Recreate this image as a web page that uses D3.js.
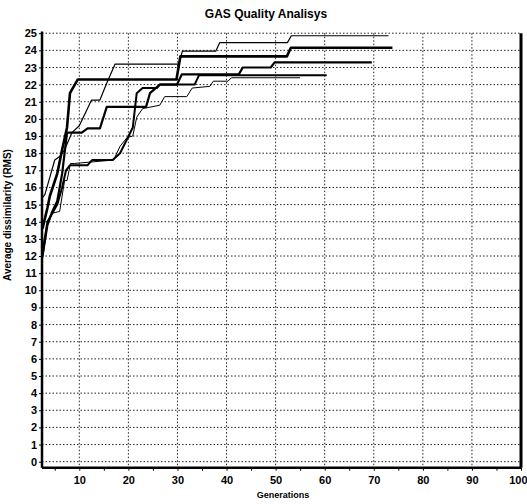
<!DOCTYPE html>
<html>
<head>
<meta charset="utf-8">
<script src="https://cdn.jsdelivr.net/npm/d3@7"></script>
<style>
  body { margin: 0; background: #fff; }
  text { font-family: "Liberation Sans", Arial, sans-serif; font-weight: bold; fill: #000; }
</style>
</head>
<body>
<svg id="chart" width="527" height="504"></svg>
<script>
// generations / quality values for each run (step-like curves)
var genA = [2.5, 3, 4, 5, 6, 7, 8.5, 10, 11.5, 12.5, 14.2, 15.6, 17.3, 30.3, 31, 37.8, 38.6, 52.4, 53.2, 73];
var valA = [15.4, 15.6, 16.6, 17.6, 17.8, 18.2, 19.2, 19.6, 20.5, 21.1, 21.1, 22.1, 23.2, 23.2, 23.95, 23.95, 24.45, 24.45, 24.85, 24.85];

var genB = [2.5, 3.5, 4, 5.5, 6.5, 7.5, 8.1, 9.7, 29.8, 30.6, 52.3, 53.1, 73.8];
var valB = [13.6, 14.8, 15.5, 16.8, 18.2, 19.5, 21.5, 22.3, 22.3, 23.65, 23.65, 24.15, 24.15];

var genC = [2.5, 3.5, 4.5, 5.5, 6.5, 7.5, 10.5, 11.7, 14.2, 15.6, 23.6, 24.4, 26.4, 29.9, 30.9, 42.5, 43.3, 49, 49.8, 69.6];
var valC = [12.0, 13.8, 14.6, 15.2, 16.8, 19.2, 19.2, 19.45, 19.45, 20.7, 20.7, 21.5, 22.0, 22.0, 22.6, 22.6, 23.0, 23.0, 23.3, 23.3];

var genD = [2.5, 3.5, 4.5, 6, 7, 7.5, 8.2, 9, 17, 18.3, 19.7, 20.9, 21.7, 22.9, 26.4, 27.4, 31.9, 33, 36.6, 37.3, 40.3, 41, 55];
var valD = [11.8, 13.8, 14.5, 14.6, 16.4, 16.4, 17.4, 17.4, 17.6, 18.4, 18.9, 19.0, 20.1, 20.6, 20.8, 21.3, 21.3, 21.8, 21.9, 22.2, 22.2, 22.4, 22.4];

var genE = [2.5, 3.5, 4.5, 5.5, 6.5, 7.3, 8.1, 11.7, 12.6, 16.8, 18.3, 19.7, 20.9, 21.7, 22.9, 25.8, 26.4, 33.5, 34.4, 60.4];
var valE = [12.2, 14.0, 14.5, 15.0, 16.0, 17.0, 17.3, 17.3, 17.6, 17.6, 18.0, 18.8, 19.5, 21.5, 21.8, 21.8, 22.0, 22.0, 22.55, 22.55];

var runs = [
  { gen: genA, val: valA, w: 1.2 },
  { gen: genB, val: valB, w: 2.6 },
  { gen: genC, val: valC, w: 2.2 },
  { gen: genD, val: valD, w: 1.0 },
  { gen: genE, val: valE, w: 2.0 }
];

var yTicks = d3.range(0, 26);
var xTicks = [10, 20, 30, 40, 50, 60, 70, 80, 90, 100];

var svg = d3.select("#chart");

var x = d3.scaleLinear().domain([2.4, 100]).range([42, 521]);
var y = d3.scaleLinear().domain([-0.35, 25]).range([467.7, 33.2]);

// dotted grid
var grid = svg.append("g");
grid.selectAll("line.h")
  .data(yTicks)
  .enter().append("line")
  .attr("x1", x(2.4)).attr("x2", x(100))
  .attr("y1", function(d) { return y(d); })
  .attr("y2", function(d) { return y(d); })
  .attr("stroke", "#222").attr("stroke-width", 1)
  .attr("stroke-dasharray", "1.5,2");
grid.selectAll("line.v")
  .data(xTicks.slice(0, -1))
  .enter().append("line")
  .attr("x1", function(d) { return x(d); })
  .attr("x2", function(d) { return x(d); })
  .attr("y1", y(25)).attr("y2", y(-0.35))
  .attr("stroke", "#222").attr("stroke-width", 1)
  .attr("stroke-dasharray", "1.5,2");

// the runs
var line = d3.line()
  .x(function(d) { return x(d[0]); })
  .y(function(d) { return y(d[1]); });

runs.forEach(function(r) {
  svg.append("path")
    .datum(d3.zip(r.gen, r.val))
    .attr("d", line)
    .attr("fill", "none")
    .attr("stroke", "#000")
    .attr("stroke-width", r.w)
    .attr("stroke-linejoin", "round");
});

// axes
var yAxis = d3.axisLeft(y).tickValues(yTicks).tickSize(3).tickPadding(1);
svg.append("g")
  .attr("transform", "translate(" + x(2.4) + ",0)")
  .call(yAxis)
  .call(function(g) {
    g.select(".domain").attr("stroke-width", 2.5).attr("d", "M0," + y(25.1) + "V" + y(-0.35));
    g.selectAll("text").attr("font-size", 11).attr("dx", -1);
  });

var xAxis = d3.axisBottom(x).tickValues(d3.range(5, 101, 5)).tickSize(3)
  .tickFormat(function(d) { return d % 10 === 0 ? d : ""; });
svg.append("g")
  .attr("transform", "translate(0," + y(-0.35) + ")")
  .call(xAxis)
  .call(function(g) {
    g.select(".domain").attr("stroke-width", 2.5).attr("d", "M" + x(2.4) + ",0H" + x(100));
    g.selectAll("text").attr("font-size", 11).attr("dy", "0.9em");
    // last label sits against the right edge
    g.selectAll(".tick").filter(function(d) { return d === 100; })
      .select("text").attr("text-anchor", "end").attr("x", 6);
  });

// right border
svg.append("line")
  .attr("x1", x(100)).attr("x2", x(100))
  .attr("y1", y(25)).attr("y2", y(-0.35))
  .attr("stroke", "#000").attr("stroke-width", 3);

svg.append("text")
  .attr("x", 266).attr("y", 18)
  .attr("text-anchor", "middle")
  .attr("font-size", 12)
  .text("GAS Quality Analisys");

svg.append("text")
  .attr("x", 283).attr("y", 498)
  .attr("text-anchor", "middle")
  .attr("font-size", 9)
  .text("Generations");

svg.append("text")
  .attr("transform", "translate(11,215) rotate(-90)")
  .attr("text-anchor", "middle")
  .attr("font-size", 10)
  .text("Average dissimilarity (RMS)");
</script>
</body>
</html>
